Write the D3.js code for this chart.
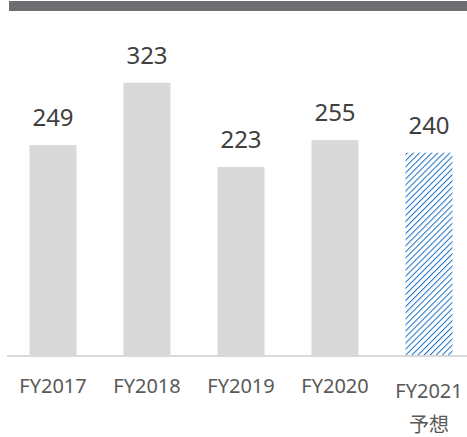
<!DOCTYPE html>
<html>
<head>
<meta charset="utf-8">
<script src="https://cdn.jsdelivr.net/npm/d3@7"></script>
<style>
  html, body { margin: 0; padding: 0; background: #fff; }
</style>
</head>
<body>
<div id="chart"></div>
<script>
const categories = ['FY2017', 'FY2018', 'FY2019', 'FY2020', 'FY2021'];
const subLabels  = ['', '', '', '', '予想'];
const values     = [249, 323, 223, 255, 240];
const forecast   = [false, false, false, false, true];

const width = 467, height = 437;
const baseline = 355;

const svg = d3.select('#chart').append('svg')
  .attr('width', width)
  .attr('height', height)
  .attr('viewBox', [0, 0, width, height]);

// hatch pattern for the forecast bar
const defs = svg.append('defs');
const pat = defs.append('pattern')
  .attr('id', 'hatch')
  .attr('patternUnits', 'userSpaceOnUse')
  .attr('width', 4.3).attr('height', 4.3)
  .attr('patternTransform', 'rotate(45)');
pat.append('line')
  .attr('x1', 0).attr('y1', 0).attr('x2', 0).attr('y2', 4.3)
  .attr('stroke', '#1a6fc4').attr('stroke-width', 2);

// top rule
svg.append('rect')
  .attr('x', 9).attr('y', 1)
  .attr('width', width - 9).attr('height', 10)
  .attr('fill', '#6d6e71');

const x = d3.scaleBand()
  .domain(categories)
  .range([6, 476])
  .paddingInner(0.5)
  .paddingOuter(0.25);

const y = d3.scaleLinear()
  .domain([0, 400])
  .range([baseline, baseline - 337.2]);

const bars = svg.append('g').attr('id', 'bars');
bars.selectAll('rect')
  .data(categories)
  .join('rect')
  .attr('x', d => x(d))
  .attr('y', (d, i) => y(values[i]))
  .attr('width', x.bandwidth())
  .attr('height', (d, i) => y(0) - y(values[i]))
  .attr('fill', (d, i) => forecast[i] ? 'url(#hatch)' : '#d9d9d9');

// baseline
svg.append('line')
  .attr('x1', 7).attr('x2', width)
  .attr('y1', baseline + 1).attr('y2', baseline + 1)
  .attr('stroke', '#d9d9d9').attr('stroke-width', 2);

// value labels
svg.append('g').selectAll('text')
  .data(categories)
  .join('text')
  .attr('x', d => x(d) + x.bandwidth() / 2)
  .attr('y', (d, i) => y(values[i]) - 19)
  .attr('text-anchor', 'middle')
  .attr('font-family', '"Noto Sans", sans-serif')
  .attr('font-size', 24)
  .attr('fill', '#404040')
  .text((d, i) => values[i]);

// category labels
const cat = svg.append('g').selectAll('text')
  .data(categories)
  .join('text')
  .attr('x', d => x(d) + x.bandwidth() / 2)
  .attr('y', (d, i) => subLabels[i] ? 398 : 393)
  .attr('text-anchor', 'middle')
  .attr('font-family', '"Noto Sans", "Noto Sans CJK JP", sans-serif')
  .attr('font-size', 20)
  .attr('fill', '#595959');

cat.append('tspan').text(d => d);
cat.append('tspan')
  .attr('x', d => x(d) + x.bandwidth() / 2)
  .attr('dy', 34)
  .text((d, i) => subLabels[i]);
</script>
</body>
</html>
